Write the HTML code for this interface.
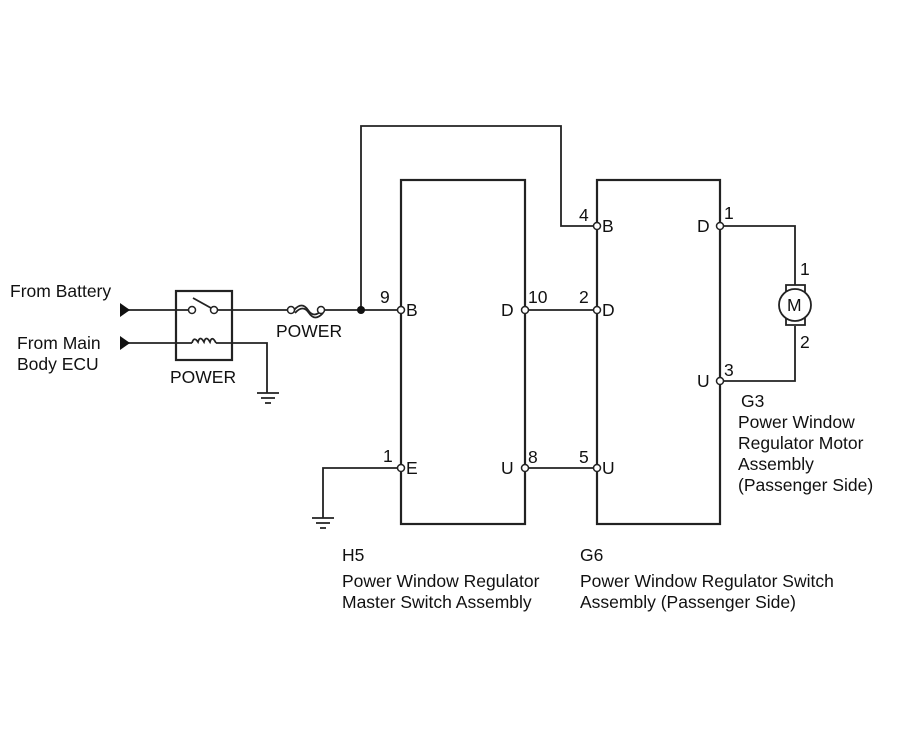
<!DOCTYPE html>
<html><head><style>body{margin:0;background:#fff}svg{display:block}text{font-family:"Liberation Sans",sans-serif;font-size:17.5px;fill:#111}</style></head>
<body><svg width="907" height="739" viewBox="0 0 907 739">
<g stroke="#222" stroke-width="1.8" fill="none">
<rect x="401" y="180" width="124" height="344" stroke-width="2.2"/>
<rect x="597" y="180" width="123" height="344" stroke-width="2.2"/>
<rect x="176" y="291" width="56" height="69" stroke-width="2.2"/>
<path d="M128 310H189M217 310H290M322 310H398"/>
<path d="M193 298L211 308"/>
<path d="M128 343H192M216 343H267V393"/>
<path d="M192 343q2-7 6 -1q2-7 6 0q2-7 6 0q2-7 6 1"/>
<path d="M294 310q8-9 14 0t14 0M295 313q8-9 14 0t14 0"/>
<path d="M361 310V126H561V226H594"/>
<path d="M528 310H594M528 468H594"/>
<path d="M398 468H323V518"/>
<path d="M723 226H795V285M795 326V381H723"/>
<circle cx="795" cy="305" r="16"/>
<path d="M786 292V285H805V292M786 318V325H805V318"/>
<path d="M257 393H279M261 398H275M265 403H271"/>
<path d="M312 518H334M316 523H330M320 528H326"/>
</g>
<g fill="#fff" stroke="#222" stroke-width="1.5">
<circle cx="192" cy="310" r="3.5"/><circle cx="214" cy="310" r="3.5"/>
<circle cx="291" cy="310" r="3.5"/><circle cx="321" cy="310" r="3.5"/>
<circle cx="401" cy="310" r="3.5"/><circle cx="401" cy="468" r="3.5"/>
<circle cx="525" cy="310" r="3.5"/><circle cx="525" cy="468" r="3.5"/>
<circle cx="597" cy="226" r="3.5"/><circle cx="597" cy="310" r="3.5"/><circle cx="597" cy="468" r="3.5"/>
<circle cx="720" cy="226" r="3.5"/><circle cx="720" cy="381" r="3.5"/>
</g>
<circle cx="361" cy="310" r="4" fill="#111"/>
<path d="M120 303L130 310L120 317Z M120 336L130 343L120 350Z" fill="#111"/>
<text x="10" y="297">From Battery</text>
<text x="17" y="349">From Main</text><text x="17" y="370">Body ECU</text>
<text x="170" y="383">POWER</text>
<text x="276" y="337">POWER</text>
<text x="380" y="303">9</text><text x="406" y="316">B</text>
<text x="383" y="462">1</text><text x="406" y="474">E</text>
<text x="501" y="316">D</text><text x="528" y="303">10</text>
<text x="501" y="474">U</text><text x="528" y="463">8</text>
<text x="579" y="221">4</text><text x="602" y="232">B</text>
<text x="579" y="303">2</text><text x="602" y="316">D</text>
<text x="579" y="463">5</text><text x="602" y="474">U</text>
<text x="697" y="232">D</text><text x="724" y="219">1</text>
<text x="697" y="387">U</text><text x="724" y="376">3</text>
<text x="787" y="311" font-size="15">M</text>
<text x="800" y="275">1</text><text x="800" y="348">2</text>
<text x="741" y="407">G3</text>
<text x="738" y="428">Power Window</text>
<text x="738" y="449">Regulator Motor</text>
<text x="738" y="470">Assembly</text>
<text x="738" y="491">(Passenger Side)</text>
<text x="342" y="561">H5</text>
<text x="342" y="587">Power Window Regulator</text>
<text x="342" y="608">Master Switch Assembly</text>
<text x="580" y="561">G6</text>
<text x="580" y="587">Power Window Regulator Switch</text>
<text x="580" y="608">Assembly (Passenger Side)</text>
</svg></body></html>
